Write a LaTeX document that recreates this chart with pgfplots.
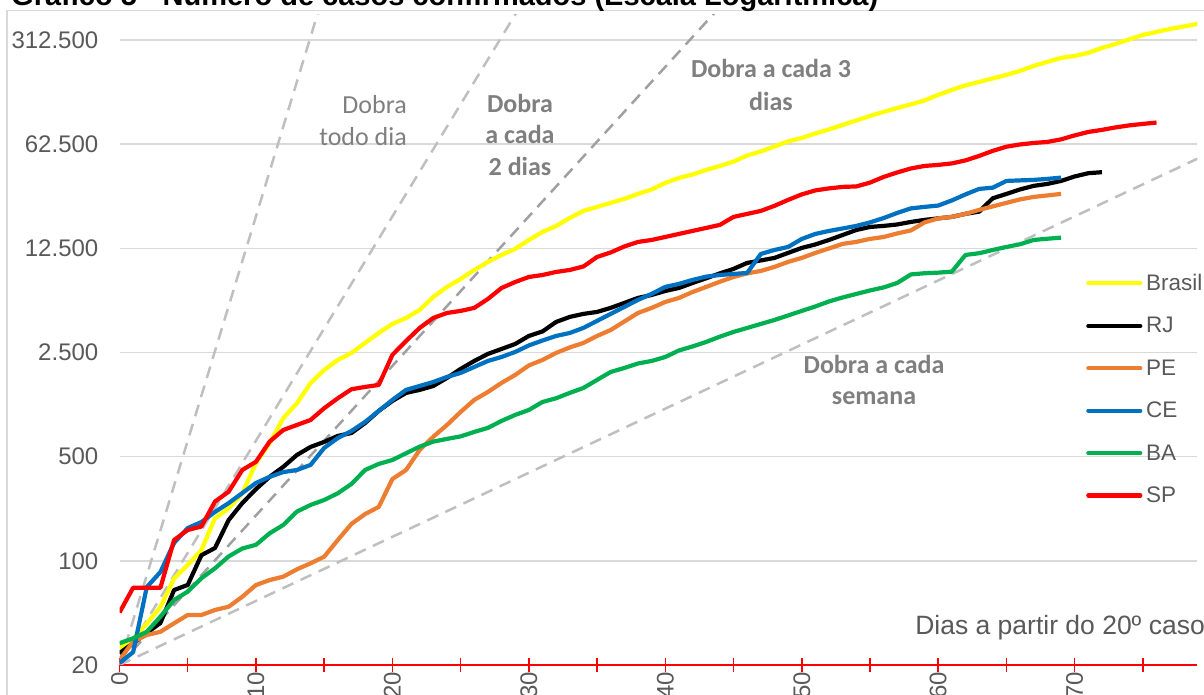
\documentclass[border=0pt]{standalone}
\usepackage{pgfplots}
\pgfplotsset{compat=1.18}
\usepackage{fontspec}
\setmainfont{Liberation Sans}
\newfontfamily\calfont{Carlito}
\definecolor{cyel}{HTML}{FFFF00}
\definecolor{corange}{HTML}{ED7D31}
\definecolor{cblue}{HTML}{0070C0}
\definecolor{cgreen}{HTML}{00B050}
\definecolor{cred}{HTML}{FF0000}
\definecolor{gridgray}{HTML}{D9D9D9}
\definecolor{ticktext}{HTML}{595959}
\definecolor{annot}{HTML}{7F7F7F}
\definecolor{dashlight}{HTML}{BFBFBF}
\definecolor{dashdark}{HTML}{A0A0A0}
\begin{document}
\begin{tikzpicture}
\useasboundingbox (0bp,0bp) rectangle (1204bp,695bp);
\draw[color=gridgray, line width=1.3bp] (7bp,-10bp) rectangle (1215bp,684.5bp);
\node[anchor=base west, inner sep=0pt, font=\fontsize{29bp}{34bp}\selectfont\bfseries] at (11bp,689bp) {Gráfico 5 - Número de casos confirmados (Escala Logarítmica)};
\begin{axis}[
  at={(119.5bp,30bp)}, anchor=south west,
  scale only axis, width=1078bp, height=650bp,
  ymode=log, xmin=0, xmax=79, ymin=20, ymax=460000,
  axis x line*=bottom, axis y line*=left,
  x axis line style={cred, line width=2bp, -},
  y axis line style={draw=none},
  xtick={0,10,20,30,40,50,60,70},
  xticklabels={0,10,20,30,40,50,60,70},
  minor xtick={5,15,25,35,45,55,65,75},
  xtick align=center,
  major tick length=14bp, minor tick length=14bp,
  xtick style={cred, line width=1.5bp},
  minor tick style={cred, line width=1.5bp},
  ytick={20,100,500,2500,12500,62500,312500},
  yticklabels={20,100,500,2.500,12.500,62.500,312.500},
  yminorticks=false,
  ytick style={draw=none},
  ymajorgrids, major grid style={color=gridgray, line width=1.5bp},
  yticklabel style={font=\fontsize{24bp}{28bp}\selectfont, text=ticktext, anchor=east, inner sep=0pt, xshift=-21bp},
  xticklabel style={font=\fontsize{24bp}{28bp}\selectfont, text=ticktext, rotate=90, anchor=east, inner sep=0pt},
  legend style={at={(0.8966,0.6012)}, anchor=north west, draw=none, fill=none, inner sep=0pt, row sep=25.3bp, nodes={inner sep=0pt}, font=\fontsize{22.5bp}{27bp}\selectfont, text=ticktext, /tikz/every odd column/.append style={column sep=3.7bp}},
  legend cell align=left,
  legend image code/.code={\draw[#1, line cap=round] (0bp,0bp) -- (52bp,0bp);},
]
\addplot[dashlight, line width=2.5bp, dash pattern=on 12bp off 8bp, forget plot] coordinates {(0,20) (15,655360)};
\addplot[dashlight, line width=2.5bp, dash pattern=on 12bp off 8bp, forget plot] coordinates {(0,20) (30,655360)};
\addplot[dashdark, line width=2.5bp, dash pattern=on 12bp off 8bp, forget plot] coordinates {(0,20) (45,655360)};
\addplot[dashlight, line width=2.5bp, dash pattern=on 12bp off 8bp, forget plot] coordinates {(0,20) (79,49940)};

\addplot[cyel, line width=4.2bp, line join=round] coordinates {
(0,26)(1,30)(2,38)(3,49)(4,76)(5,94)(6,118)(7,193)(8,225)(9,284)(10,452)(11,615)(12,906)(13,1141)(14,1556)(15,1910)(16,2228)(17,2484)(18,2899)(19,3381)(20,3887)(21,4264)(22,4829)(23,5904)(24,6886)(25,7790)(26,8953)(27,10130)(28,11290)(29,12390)(30,14230)(31,16100)(32,17660)(33,20000)(34,22300)(35,23720)(36,25240)(37,26860)(38,28990)(39,31060)(40,34360)(41,37090)(42,39150)(43,41980)(44,44650)(45,47740)(46,52500)(47,55850)(48,60400)(49,65230)(50,68830)(51,73770)(52,78500)(53,84180)(54,90200)(55,96760)(56,102900)(57,109400)(58,115600)(59,122900)(60,133900)(61,144600)(62,155000)(63,163600)(64,172700)(65,182300)(66,194000)(67,209500)(68,222900)(69,237000)(70,244600)(71,256200)(72,276500)(73,294300)(74,315600)(75,338100)(76,354200)(77,370900)(78,385500)(79,400900)};
\addlegendentry{Brasil}
\addplot[black, line width=4.2bp, line join=round] coordinates {
(0,24)(1,28)(2,32.8)(3,38.3)(4,63.7)(5,68.9)(6,109)(7,122)(8,188)(9,244)(10,303)(11,366)(12,427)(13,513)(14,581)(15,628)(16,689)(17,721)(18,841)(19,1014)(20,1183)(21,1339)(22,1403)(23,1491)(24,1688)(25,1940)(26,2194)(27,2446)(28,2641)(29,2853)(30,3229)(31,3461)(32,4009)(33,4333)(34,4540)(35,4680)(36,4981)(37,5380)(38,5810)(39,6084)(40,6471)(41,6777)(42,7325)(43,7874)(44,8490)(45,9097)(46,9980)(47,10370)(48,10780)(49,11650)(50,12580)(51,13280)(52,14230)(53,15370)(54,16600)(55,17400)(56,17680)(57,18080)(58,18800)(59,19400)(60,19860)(61,20320)(62,21300)(63,22040)(64,27100)(65,28980)(66,31070)(67,32830)(68,33830)(69,35420)(70,37950)(71,39910)(72,40550)};
\addlegendentry{RJ}
\addplot[corange, line width=4.2bp, line join=round] coordinates {
(0,21.6)(1,28.7)(2,31.8)(3,33.4)(4,38.1)(5,43.3)(6,43.3)(7,46.8)(8,49.2)(9,57.4)(10,68.8)(11,74.3)(12,78.3)(13,87.7)(14,96.2)(15,106.6)(16,138)(17,177)(18,206)(19,230)(20,354)(21,407)(22,555)(23,681)(24,816)(25,998)(26,1202)(27,1359)(28,1563)(29,1768)(30,2047)(31,2228)(32,2484)(33,2704)(34,2899)(35,3228)(36,3541)(37,4038)(38,4605)(39,4980)(40,5460)(41,5808)(42,6370)(43,6886)(44,7466)(45,8030)(46,8485)(47,8816)(48,9380)(49,10140)(50,10780)(51,11650)(52,12480)(53,13390)(54,13810)(55,14460)(56,14900)(57,15740)(58,16490)(59,18660)(60,19850)(61,20320)(62,21290)(63,22640)(64,23900)(65,25240)(66,26630)(67,27670)(68,28310)(69,28990)};
\addlegendentry{PE}
\addplot[cblue, line width=4.2bp, line join=round] coordinates {
(0,20.6)(1,24.4)(2,66.7)(3,84.1)(4,132)(5,166)(6,182)(7,213)(8,244)(9,285)(10,333)(11,366)(12,394)(13,407)(14,440)(15,572)(16,667)(17,743)(18,855)(19,1014)(20,1202)(21,1403)(22,1491)(23,1585)(24,1714)(25,1823)(26,2000)(27,2194)(28,2333)(29,2522)(30,2788)(31,3011)(32,3228)(33,3381)(34,3656)(35,4075)(36,4540)(37,5057)(38,5637)(39,6184)(40,6892)(41,7214)(42,7676)(43,8074)(44,8283)(45,8414)(46,8549)(47,11460)(48,12190)(49,12770)(50,14450)(51,15620)(52,16360)(53,17000)(54,17680)(55,18660)(56,19960)(57,21610)(58,23170)(59,23720)(60,24210)(61,26200)(62,28770)(63,31310)(64,31930)(65,35420)(66,35720)(67,35990)(68,36560)(69,37270)};
\addlegendentry{CE}
\addplot[cgreen, line width=4.2bp, line join=round] coordinates {
(0,28)(1,30.2)(2,33.4)(3,42.2)(4,54.6)(5,62.1)(6,76.4)(7,89.1)(8,107)(9,121)(10,128)(11,153)(12,174)(13,214)(14,237)(15,256)(16,284)(17,328)(18,407)(19,447)(20,475)(21,527)(22,584)(23,631)(24,658)(25,684)(26,733)(27,780)(28,869)(29,953)(30,1029)(31,1164)(32,1233)(33,1339)(34,1446)(35,1637)(36,1851)(37,1969)(38,2110)(39,2194)(40,2333)(41,2580)(42,2746)(43,2945)(44,3193)(45,3436)(46,3655)(47,3887)(48,4133)(49,4433)(50,4753)(51,5094)(52,5504)(53,5853)(54,6180)(55,6520)(56,6834)(57,7325)(58,8353)(59,8508)(60,8586)(61,8720)(62,11290)(63,11590)(64,12190)(65,12770)(66,13320)(67,14230)(68,14500)(69,14750)};
\addlegendentry{BA}
\addplot[cred, line width=4.2bp, line join=round] coordinates {
(0,45)(1,66)(2,66)(3,66)(4,138)(5,161)(6,170)(7,250)(8,291)(9,407)(10,462)(11,631)(12,755)(13,816)(14,881)(15,1057)(16,1233)(17,1417)(18,1469)(19,1514)(20,2410)(21,2986)(22,3657)(23,4266)(24,4605)(25,4754)(26,4980)(27,5720)(28,6776)(29,7430)(30,8030)(31,8280)(32,8680)(33,8950)(34,9446)(35,10940)(36,11730)(37,12870)(38,13800)(39,14230)(40,14900)(41,15620)(42,16360)(43,17140)(44,17960)(45,20320)(46,21280)(47,22290)(48,24100)(49,26420)(50,28770)(51,30600)(52,31570)(53,32300)(54,32530)(55,34520)(56,37680)(57,40380)(58,42950)(59,44650)(60,45370)(61,46430)(62,48640)(63,52120)(64,56360)(65,60130)(66,62230)(67,63690)(68,64720)(69,67300)(70,71600)(71,75500)(72,77950)(73,80980)(74,83550)(75,85500)(76,87300)};
\addlegendentry{SP}
\end{axis}
\begin{scope}[every node/.style={inner sep=0pt, text=annot, font=\calfont\fontsize{26bp}{31bp}\selectfont}]
\node[anchor=base east] at (407bp,581.7bp) {Dobra};
\node[anchor=base east] at (407bp,549.3bp) {todo dia};
\node[anchor=base, font=\calfont\bfseries\fontsize{26bp}{31bp}\selectfont] at (520bp,582.5bp) {Dobra};
\node[anchor=base, font=\calfont\bfseries\fontsize{26bp}{31bp}\selectfont] at (520bp,551bp) {a cada};
\node[anchor=base, font=\calfont\bfseries\fontsize{26bp}{31bp}\selectfont] at (520bp,519bp) {2 dias};
\node[anchor=base, font=\calfont\bfseries\fontsize{26bp}{31bp}\selectfont] at (771bp,617bp) {Dobra a cada 3};
\node[anchor=base, font=\calfont\bfseries\fontsize{26bp}{31bp}\selectfont] at (771bp,584.3bp) {dias};
\node[anchor=base, font=\calfont\bfseries\fontsize{26bp}{31bp}\selectfont] at (874bp,321.7bp) {Dobra a cada};
\node[anchor=base, font=\calfont\bfseries\fontsize{26bp}{31bp}\selectfont] at (874bp,290bp) {semana};
\end{scope}
\node[anchor=base east, inner sep=0pt, text=ticktext, font=\fontsize{26.5bp}{31bp}\selectfont] at (1205bp,60bp) {Dias a partir do 20º caso};
\end{tikzpicture}
\end{document}
